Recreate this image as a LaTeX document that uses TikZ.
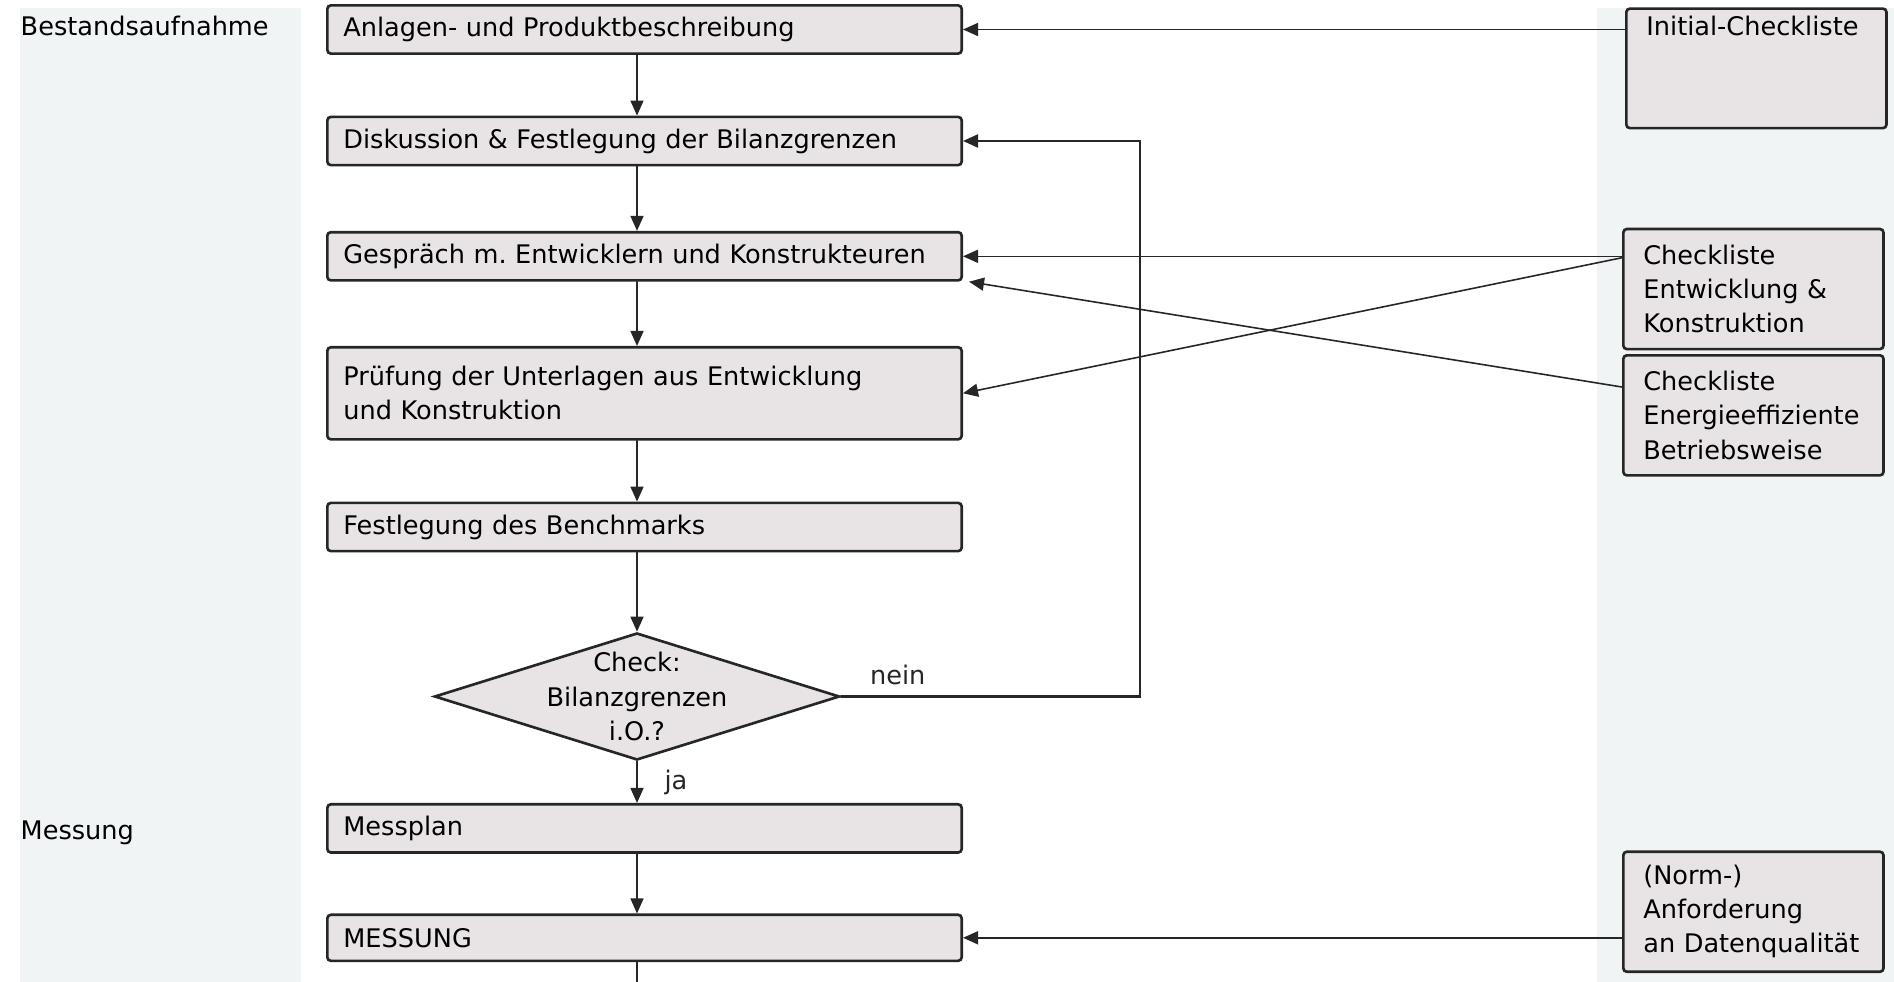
\documentclass[tikz,border=0pt]{standalone}
\usepackage{fontspec}
\setmainfont{DejaVu Sans}
\usepackage{tikz}
\usetikzlibrary{arrows.meta,shapes.geometric}
\definecolor{boxfill}{HTML}{E8E4E5}
\definecolor{bandfill}{HTML}{F1F4F5}
\frenchspacing

\begin{document}
\begin{tikzpicture}[x=0.01cm,y=-0.01cm,>={Triangle[length=1.5mm,width=1.3mm]},
  font=\fontsize{7.28}{9.7}\selectfont,line cap=round,
  mainbox/.style={draw=black!85,line width=0.75pt,fill=boxfill,rounded corners=1pt,anchor=west,
    text width=6.02cm,inner xsep=0.16cm,align=left,minimum height=0.46cm},
  sidebox/.style={draw=black!85,line width=0.75pt,fill=boxfill,rounded corners=1pt,anchor=north west,
    text width=2.2cm,inner xsep=0.2cm,align=left,minimum height=1.2cm},
  conn/.style={line width=0.45pt,black!85}]
\useasboundingbox (0,0) rectangle (1894,982);
% Hintergrundspalten
\fill[bandfill] (20,8) rectangle (301,982);
\fill[bandfill] (1597,8) rectangle (1894,982);
\node[anchor=base west,inner sep=0] (phase1) at (20,36) {Bestandsaufnahme};
\node[anchor=base west,inner sep=0] (phase2) at (20,839) {Messung};
% Ablauf
\node[mainbox] (anl) at (326,29.5) {Anlagen- und Produktbeschreibung};
\node[mainbox] (dis) at (326,141) {Diskussion \& Festlegung der Bilanzgrenzen};
\node[mainbox] (ges) at (326,256.3) {Gespräch m. Entwicklern und Konstrukteuren};
\node[mainbox,minimum height=0.92cm] (pru) at (326,393.3) {Prüfung der Unterlagen aus Entwicklung\\und Konstruktion};
\node[mainbox] (ben) at (326,527) {Festlegung des Benchmarks};
\node[diamond,draw=black!85,line width=0.75pt,fill=boxfill,minimum width=4.05cm,minimum height=1.27cm,inner sep=0,
  label={[align=center]center:{Check:\\Bilanzgrenzen\\i.O.?}}] (chk) at (637,696.5) {};
\node[mainbox] (mpl) at (326,828.4) {Messplan};
\node[mainbox] (mes) at (326,937.8) {MESSUNG};
% Checklisten
\node[sidebox,inner ysep=0.07cm,text depth=0.86cm,minimum height=1.19cm] (ini) at (1625,7.3) {Initial-Checkliste};
\node[sidebox] (ek) at (1622,227.7) {Checkliste\\Entwicklung \&\\Konstruktion};
\node[sidebox] (ene) at (1622,354) {Checkliste\\Energieeffiziente\\Betriebsweise};
\node[sidebox] (nrm) at (1622,850.4) {(Norm-)\\Anforderung\\an Datenqualität};
\coordinate (back) at (1140,696.5);
\coordinate (cut) at (637,982);
% Pfeile
\draw[conn,->] (anl.south -| chk) -- (dis.north -| chk);
\draw[conn,->] (dis.south -| chk) -- (ges.north -| chk);
\draw[conn,->] (ges.south -| chk) -- (pru.north -| chk);
\draw[conn,->] (pru.south -| chk) -- (ben.north -| chk);
\draw[conn,->] (ben.south -| chk) -- (chk.north);
\draw[conn,->] (chk.south) -- node[right=0.15cm]{ja} (mpl.north -| chk);
\draw[conn,->] (mpl.south -| chk) -- (mes.north -| chk);
\draw[conn] (mes.south -| chk) -- (cut);
\draw[conn,line width=0.6pt,->] (chk.east) -- node[above=-0.015cm,pos=0.19]{nein} (back) |- (dis.east);
\draw[conn,->] (anl -| ini.west) -- (anl.east);
\draw[conn,->] (ges.east -| ek.west) -- (ges.east);
\draw[conn,->] ([yshift=-0.3cm]ek.north west) -- (pru.east);
\draw[conn,->] ([yshift=-0.33cm]ene.north west) -- ([xshift=0.06cm]ges.south east);
\draw[conn,->] (mes.east -| nrm.west) -- (mes.east);
\end{tikzpicture}
\end{document}
